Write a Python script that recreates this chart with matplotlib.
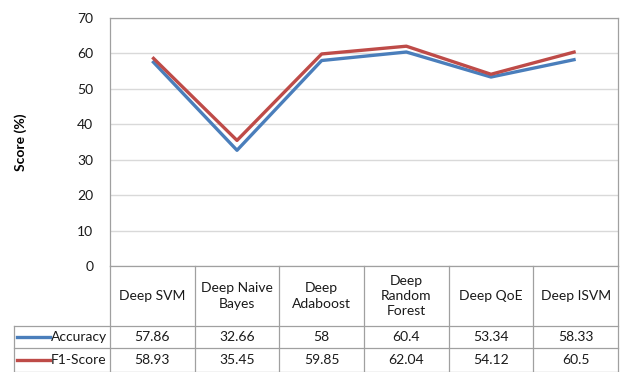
import matplotlib
matplotlib.use("Agg")
import matplotlib.pyplot as plt
import matplotlib.transforms as mtransforms
from matplotlib.lines import Line2D

categories = ["Deep SVM", "Deep Naive\nBayes", "Deep\nAdaboost", "Deep\nRandom\nForest", "Deep QoE", "Deep ISVM"]
accuracy = [57.86, 32.66, 58, 60.4, 53.34, 58.33]
f1_score = [58.93, 35.45, 59.85, 62.04, 54.12, 60.5]
acc_labels = ["57.86", "32.66", "58", "60.4", "53.34", "58.33"]
f1_labels = ["58.93", "35.45", "59.85", "62.04", "54.12", "60.5"]
series_names = ["Accuracy", "F1-Score"]
yticks = [0, 10, 20, 30, 40, 50, 60, 70]

plt.rcParams['font.family'] = ['Lato', 'DejaVu Sans']
W, H = 620, 372
fig = plt.figure(figsize=(6.2, 3.72), dpi=100)
fig.patch.set_facecolor("white")

def fy(py):
    return 1 - py / H

def fx(px):
    return px / W

left, right, top, bottom = 110, 618, 18, 266
ax = fig.add_axes([fx(left), fy(bottom), fx(right - left), (bottom - top) / H])

blue = "#4a7ebb"
red = "#be4b48"
grid = "#d9d9d9"
border = "#a0a0a0"
txt = "#1a1a1a"
fs = 10
x = list(range(len(categories)))
ax.plot(x, accuracy, color=blue, lw=2.4, solid_capstyle="butt", zorder=3)
ax.plot(x, f1_score, color=red, lw=2.4, solid_capstyle="butt", zorder=3)
ax.set_xlim(-0.5, len(categories) - 0.5)
ax.set_ylim(0, 70)
ax.set_yticks(yticks)
ax.set_xticks([])
ax.tick_params(axis="y", length=0, pad=12, labelsize=fs, labelcolor=txt)
ax.yaxis.grid(True, color=grid, lw=1)
ax.set_axisbelow(True)
for s in ax.spines.values():
    s.set_color(border)
    s.set_linewidth(0.9)
ax.set_ylabel("Score (%)", fontsize=fs, fontweight="bold", labelpad=36)

bt = mtransforms.blended_transform_factory(ax.transData, fig.transFigure)

# table lines
row1, row2, row3 = 326, 348, 372
bounds = [i - 0.5 for i in range(len(categories) + 1)]
for b in bounds:
    ax.add_line(Line2D([b, b], [fy(bottom), fy(row3)], transform=bt, color=border, lw=0.9, clip_on=False))
for yy in [row1, row2, row3 - 0.5]:
    fig.add_artist(Line2D([fx(14), fx(right)], [fy(yy), fy(yy)], color=border, lw=0.9))
fig.add_artist(Line2D([fx(14), fx(14)], [fy(row1), fy(row3)], color=border, lw=0.9))

# header text
for i, c in enumerate(categories):
    ax.text(i, fy((bottom + row1) / 2), c, transform=bt, ha="center", va="center",
            fontsize=fs, color=txt, linespacing=1.3)
for i in range(len(categories)):
    ax.text(i, fy((row1 + row2) / 2), acc_labels[i], transform=bt, ha="center", va="center",
            fontsize=fs, color=txt)
    ax.text(i, fy((row2 + row3) / 2), f1_labels[i], transform=bt, ha="center", va="center",
            fontsize=fs, color=txt)

# legend keys
for name, col, yy in [(series_names[0], blue, (row1 + row2) / 2), (series_names[1], red, (row2 + row3) / 2)]:
    fig.add_artist(Line2D([fx(17), fx(50)], [fy(yy), fy(yy)], color=col, lw=2.4))
    fig.text(fx(51), fy(yy), name, ha="left", va="center", fontsize=fs, color=txt)

fig.savefig("out.png", dpi=100, facecolor="white")
